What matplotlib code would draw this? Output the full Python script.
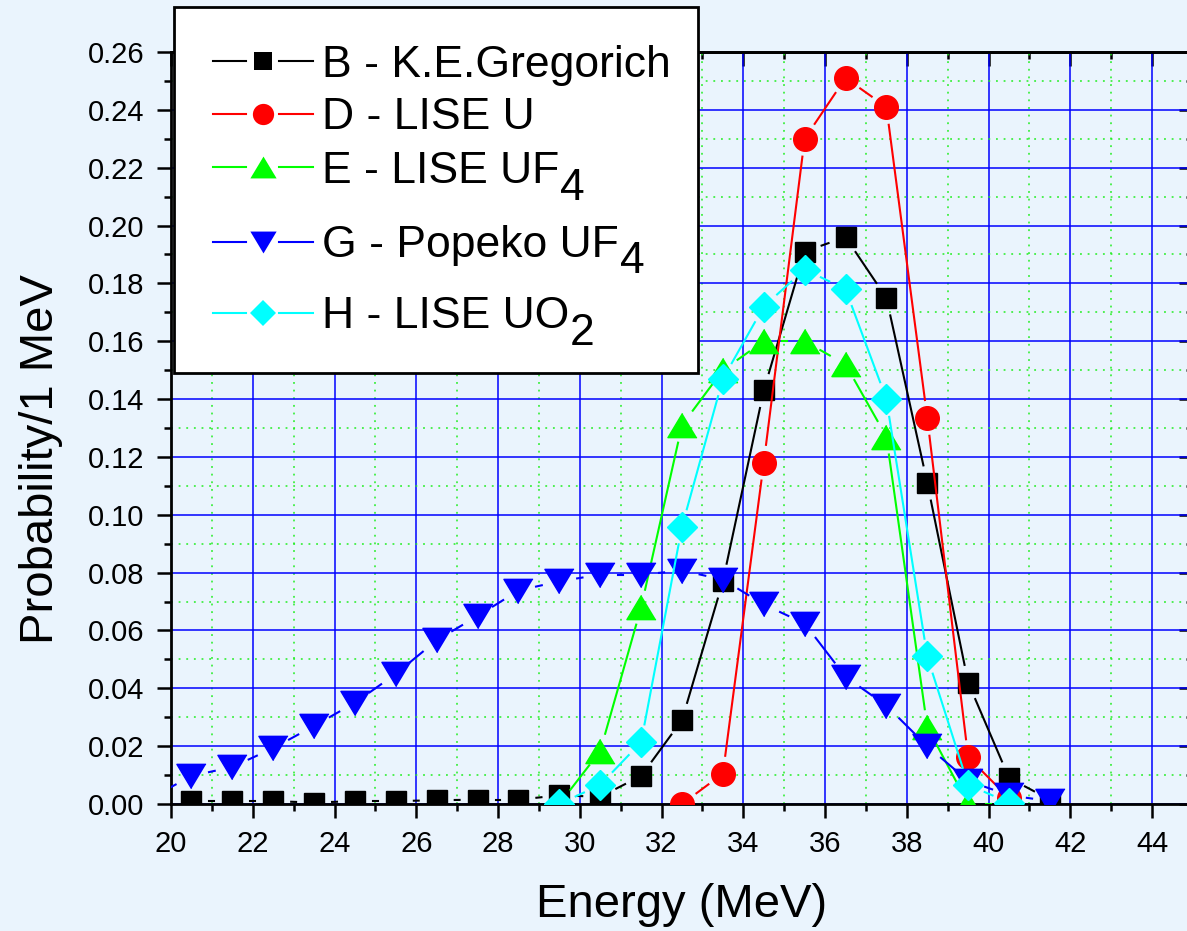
import matplotlib
matplotlib.use('Agg')
import matplotlib.pyplot as plt
from matplotlib.lines import Line2D
from matplotlib.patches import Rectangle
from matplotlib.ticker import MultipleLocator
import numpy as np

plt.rcParams['font.family'] = ['Liberation Sans', 'DejaVu Sans']

# energies (MeV)
x_b = [20.5, 21.5, 22.5, 23.5, 24.5, 25.5, 26.5, 27.5, 28.5, 29.5, 30.5,
       31.5, 32.5, 33.5, 34.5, 35.5, 36.5, 37.5, 38.5, 39.5, 40.5, 41.5]
y_b = [0.001, 0.001, 0.001, 0.0005, 0.001, 0.001, 0.0013, 0.0015, 0.0015, 0.003, 0.0025,
       0.0097, 0.029, 0.077, 0.143, 0.191, 0.196, 0.175, 0.111, 0.042, 0.009, 0.0015]

x_d = [32.5, 33.5, 34.5, 35.5, 36.5, 37.5, 38.5, 39.5, 40.5]
y_d = [0.0, 0.0105, 0.118, 0.230, 0.251, 0.241, 0.1335, 0.0162, 0.002]

x_e = [29.5, 30.5, 31.5, 32.5, 33.5, 34.5, 35.5, 36.5, 37.5, 38.5, 39.5, 40.5]
y_e = [0.0, 0.0183, 0.068, 0.131, 0.150, 0.160, 0.160, 0.152, 0.127, 0.0266, 0.0, 0.0]

x_g = [19.5, 20.5, 21.5, 22.5, 23.5, 24.5, 25.5, 26.5, 27.5, 28.5, 29.5, 30.5,
       31.5, 32.5, 33.5, 34.5, 35.5, 36.5, 37.5, 38.5, 39.5, 40.5, 41.5]
y_g = [0.002, 0.0097, 0.0128, 0.0193, 0.027, 0.035, 0.045, 0.0566, 0.065, 0.0738, 0.077, 0.0793,
       0.0793, 0.0807, 0.0776, 0.069, 0.0624, 0.044, 0.034, 0.020, 0.008, 0.003, 0.001]

x_h = [29.5, 30.5, 31.5, 32.5, 33.5, 34.5, 35.5, 36.5, 37.5, 38.5, 39.5, 40.5]
y_h = [0.0, 0.0066, 0.0214, 0.0959, 0.147, 0.172, 0.1848, 0.178, 0.140, 0.051, 0.0066, 0.0005]

# legend text: (main part, subscript)
labels = [('B - K.E.Gregorich', ''), ('D - LISE U', ''), ('E - LISE UF', '4'),
          ('G - Popeko UF', '4'), ('H - LISE UO', '2')]

bg = '#eaf4fd'
tri_up = [(0, 1), (-1.2, -1), (1.2, -1)]
tri_dn = [(0, -1), (-1.2, 1), (1.2, 1)]

series = [
    (x_b, y_b, 'black', 's', 15),
    (x_d, y_d, '#ff0000', 'o', 17),
    (x_e, y_e, '#00ff00', tri_up, 21),
    (x_g, y_g, '#0000ff', tri_dn, 21),
    (x_h, y_h, '#00ffff', 'D', 15),
]

W, H = 1187, 931
fig = plt.figure(figsize=(W / 100, H / 100), dpi=100, facecolor=bg)
ax = fig.add_axes([171 / W, (H - 804) / H, 1022 / W, 752 / H])
ax.set_facecolor(bg)
ax.set_xlim(20, 45)
ax.set_ylim(0, 0.26)

ax.xaxis.set_major_locator(MultipleLocator(2))
ax.xaxis.set_minor_locator(MultipleLocator(1))
ax.yaxis.set_major_locator(MultipleLocator(0.02))
ax.yaxis.set_minor_locator(MultipleLocator(0.01))
ax.xaxis.set_major_formatter(lambda v, p: '%d' % v)
ax.yaxis.set_major_formatter(lambda v, p: '%.2f' % v)

ax.grid(which='major', color='#0000ff', lw=1.1, zorder=0)
ax.grid(which='minor', color='#22ee22', lw=1.1, ls=(0, (1.2, 3.8)), zorder=0)
ax.set_axisbelow(True)

ax.tick_params(which='both', direction='out', width=1.8, labelsize=21, pad=9)
ax.tick_params(which='major', length=10)
ax.tick_params(which='minor', length=5)
for s in ax.spines.values():
    s.set_linewidth(2)

# top / right ticks point inward
top = ax.secondary_xaxis('top')
right = ax.secondary_yaxis('right')
for sec in (top, right):
    sec.tick_params(which='both', direction='in', width=1.8, labelsize=0)
    sec.tick_params(which='major', length=10)
    sec.tick_params(which='minor', length=5)
    sec.spines[:].set_linewidth(2)
top.xaxis.set_major_locator(MultipleLocator(2))
top.xaxis.set_minor_locator(MultipleLocator(1))
top.set_xticklabels([])
right.yaxis.set_major_locator(MultipleLocator(0.02))
right.yaxis.set_minor_locator(MultipleLocator(0.01))
right.set_yticklabels([])

gap = 18  # pixels of empty space between a line and a marker centre


def gapped_line(x, y, color, z):
    pts = ax.transData.transform(np.column_stack([x, y]))
    inv = ax.transData.inverted()
    for p0, p1 in zip(pts[:-1], pts[1:]):
        d = p1 - p0
        L = np.hypot(d[0], d[1])
        if L <= 2 * gap:
            continue
        u = d / L
        seg = inv.transform(np.array([p0 + u * gap, p1 - u * gap]))
        ax.plot(seg[:, 0], seg[:, 1], color=color, lw=1.5, zorder=z)


for i, (x, y, c, m, ms) in enumerate(series):
    z = 3 + i
    gapped_line(x, y, c, z)
    ax.plot(x, y, ls='none', marker=m, ms=ms, color=c, mec=c, zorder=z)

ax.set_xlabel('Energy (MeV)', fontsize=34)
ax.xaxis.label.set_va('center')
ax.xaxis.set_label_coords(0.5, (804 - 905) / 752)
ax.set_ylabel('Probability/1 MeV', fontsize=34)
ax.yaxis.label.set_va('center')
ax.yaxis.set_label_coords((41 - 171) / 1022, (804 - 459) / 752)

# hand-built legend, Origin style (line - marker - line, full size subscripts)
def fx(px):
    return px / W


def fy(py):
    return 1 - py / H


fig.add_artist(Rectangle((fx(174), fy(373)), fx(698) - fx(174), fy(7) - fy(373),
                         transform=fig.transFigure, facecolor='white',
                         edgecolor='black', lw=2, zorder=10))
row_mid = [61, 114, 167, 242, 313]
row_base = [77, 129, 183, 257, 328]
sub_drop = [0, 0, 17, 16, 17]
texts = []
for (x, y, c, m, ms), (main, sub), ym, yb, dr in zip(series, labels, row_mid, row_base, sub_drop):
    for xa, xb in ((213, 246), (279, 313)):
        fig.add_artist(Line2D([fx(xa), fx(xb)], [fy(ym), fy(ym)], color=c, lw=1.5,
                              transform=fig.transFigure, zorder=11))
    fig.add_artist(Line2D([fx(262.5)], [fy(ym)], ls='none', marker=m, ms=ms * 0.9,
                          mew=0, color=c, transform=fig.transFigure, zorder=12))
    t = fig.text(fx(322), fy(yb), main, fontsize=32, va='baseline', ha='left', zorder=12)
    texts.append((t, sub, yb + dr))

fig.canvas.draw()
r = fig.canvas.get_renderer()
for t, sub, ys in texts:
    if sub:
        bb = t.get_window_extent(r)
        fig.text(bb.x1 / W + fx(1), fy(ys), sub, fontsize=32, va='baseline',
                 ha='left', zorder=12)

fig.savefig('out.png', dpi=100, facecolor=bg)
